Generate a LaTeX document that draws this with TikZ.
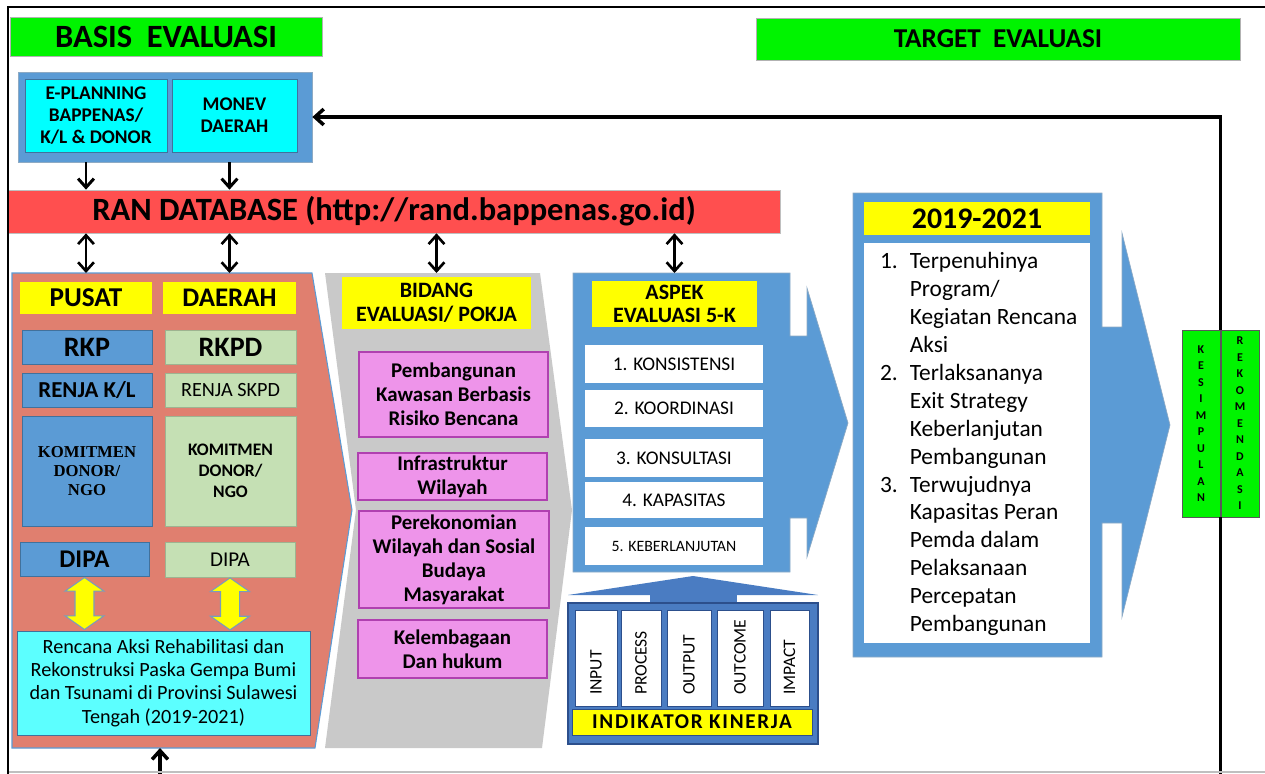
\documentclass[tikz,border=0pt]{standalone}
\usepackage{fontspec}
\setmainfont{Carlito}
\newfontfamily\tnrfont{Liberation Serif}
\usetikzlibrary{positioning}
\usetikzlibrary{calc}
\usetikzlibrary{fit}
\usetikzlibrary{shapes.arrows}
\usetikzlibrary{arrows.meta}

\definecolor{hijau}{HTML}{00F400}
\definecolor{biru}{HTML}{5B9BD5}
\definecolor{birugaris}{HTML}{41719C}
\definecolor{birutua}{HTML}{4A7CC2}
\definecolor{birukelam}{HTML}{2C4F8C}
\definecolor{sian}{HTML}{00FFFF}
\definecolor{sianmuda}{HTML}{5CFFFF}
\definecolor{merah}{HTML}{FF4F4F}
\definecolor{salem}{HTML}{E07F6F}
\definecolor{kuning}{HTML}{FFFF00}
\definecolor{hijaumuda}{HTML}{C5E0B4}
\definecolor{merahmuda}{HTML}{EE94EA}
\definecolor{ungu}{HTML}{B040B0}
\definecolor{abu}{HTML}{C9C9C9}

\begin{document}
\begin{tikzpicture}[x=0.02cm, y=-0.02cm,
    di/.style args={#1/#2/#3/#4}{minimum width={(#3-#1)*0.02cm}, minimum height={(#4-#2)*0.02cm},
        at={({(#1+#3)/2},{(#2+#4)/2})}},
    kotak/.style={inner sep=0pt, align=center},
    hijaubox/.style={kotak, fill=hijau, draw=gray!60, line width=0.4pt},
    birubox/.style={kotak, fill=biru, draw=birugaris, line width=0.5pt},
    mudabox/.style={kotak, fill=hijaumuda, draw=hijaumuda!80!black, line width=0.3pt},
    kuningbox/.style={kotak, fill=kuning},
    pinkbox/.style={kotak, fill=merahmuda, draw=ungu, line width=0.6pt, font=\fontsize{11.9}{13.6}\bfseries},
    putihbox/.style={kotak, fill=white, font=\fontsize{11}{13}\selectfont},
    kolom/.style={fill=white, draw=birukelam, line width=0.4pt, rotate=90, inner xsep=0.22cm,
        inner ysep=0pt, text width=1.48cm, align=left, minimum width=1.92cm, font=\fontsize{10}{12}\selectfont},
    dobel/.style={double arrow, rotate=90, fill=kuning, draw=birugaris!70, line width=0.6pt, inner sep=0.18cm,
        double arrow head extend=0.2cm, double arrow tip angle=110, minimum height=1.04cm},
    panah/.style={line width=1.7pt, -{Straight Barb[length=5pt,width=9pt]}},
    panah2/.style={line width=1.5pt, {Straight Barb[length=5pt,width=9pt]}-{Straight Barb[length=5pt,width=9pt]}}
]
\useasboundingbox (0,0) rectangle (1265,774);
\clip (0,0) rectangle (1265,774);

% judul
\node[hijaubox, di=10/17/322/56, font=\fontsize{18.5}{21}\bfseries] (basis) {BASIS\ \ EVALUASI};
\node[hijaubox, di=756/18/1240/60, font=\fontsize{15.5}{18}\bfseries] (target) {TARGET\ \ EVALUASI};

% sumber data
\node[kotak, fill=biru, draw=birugaris!60, di=18/72/312/162] (sumber) {};
\node[kotak, fill=sian, draw=birugaris, di=25/79/167/152, font=\fontsize{11}{12.5}\bfseries] (eplan) {E-PLANNING\\BAPPENAS/\\K/L \& DONOR};
\node[kotak, fill=sian, draw=birugaris, di=172/79/297/152, font=\fontsize{11}{12.5}\bfseries] (monev) {MONEV\\DAERAH};

\node[kotak, fill=merah, draw=gray!50, di=8/190/780/233, font=\fontsize{18.5}{21}\bfseries] (ran) {RAN DATABASE (http://rand.bappenas.go.id)};

% panel kiri dan tengah
\filldraw[fill=salem, draw=biru, line width=0.6pt] (12,273) coordinate (atas) -- (312,273) -- (352,510) -- (315,748) -- (12,748) -- cycle;
\coordinate (bawah) at (160,748);
\fill[abu] (325,273) -- (540,273) -- (572,510) -- (542,748) -- (325,748) -- (356,510) -- cycle;

\node[kuningbox, di=20/282/152/314, font=\fontsize{15.5}{17}\bfseries] (pusat) {PUSAT};
\node[kuningbox, di=163/282/296/314, font=\fontsize{15.3}{17}\bfseries] (daerah) {DAERAH};
\node[birubox, di=22/330/152/364, font=\fontsize{16}{18}\bfseries] (rkp) {RKP};
\node[mudabox, di=165/330/296/364, font=\fontsize{16}{18}\bfseries] (rkpd) {RKPD};
\node[birubox, di=22/373/152/407, font=\fontsize{13}{15}\bfseries] (renjakl) {RENJA K/L};
\node[mudabox, di=165/373/296/407, font=\fontsize{11.5}{13}\selectfont] (renjaskpd) {RENJA SKPD};
\node[birubox, di=22/416/152/526, font=\tnrfont\fontsize{9.5}{10.8}\bfseries] (komit1) {KOMITMEN\\DONOR/\\NGO};
\node[mudabox, di=165/416/296/526, font=\fontsize{10}{12}\bfseries] (komit2) {KOMITMEN\\DONOR/\\NGO};
\node[birubox, di=20/542/149/576, font=\fontsize{14.5}{16}\bfseries] (dipa1) {DIPA};
\node[mudabox, di=165/542/295/577, font=\fontsize{12}{14}\selectfont] (dipa2) {DIPA};
\node[kotak, fill=sianmuda, draw=birugaris, line width=0.5pt, di=17/631/310/735, font=\fontsize{11.5}{13.3}\selectfont] (renc)
    {Rencana Aksi Rehabilitasi dan\\Rekonstruksi Paska Gempa Bumi\\dan Tsunami di Provinsi Sulawesi\\Tengah (2019-2021)};
\node[dobel] (d1) at ($(dipa1.south)!0.5!(dipa1.south |- renc.north)$) {};
\node[dobel] (d2) at ($(dipa2.south)!0.5!(dipa2.south |- renc.north)$) {};

\node[kuningbox, di=342/277/531/329, font=\fontsize{12.5}{13.5}\bfseries] (bidang) {BIDANG\\EVALUASI/ POKJA};
\node[pinkbox, di=359/352/548/437] (pb1) {Pembangunan\\Kawasan Berbasis\\Risiko Bencana};
\node[pinkbox, di=358/453/547/500] (pb2) {Infrastruktur\\Wilayah};
\node[pinkbox, di=359/511/549/608] (pb3) {Perekonomian\\Wilayah dan Sosial\\Budaya\\Masyarakat};
\node[pinkbox, di=358/620/547/678] (pb4) {Kelembagaan\\Dan hukum};

% aspek evaluasi
\filldraw[fill=biru, draw=birugaris!60, line width=0.4pt] (573,273) -- (790,273) -- (790,336) -- (807,336) -- (807,288)
    -- (848,423) -- (807,557) -- (807,518) -- (790,518) -- (790,572) -- (573,572) -- cycle;
\node[kuningbox, di=592/281/757/327, font=\fontsize{12.5}{13.5}\bfseries] (aspek) {ASPEK\\EVALUASI 5-K};
\node[putihbox, di=585/345/763/383] (k1) {1. KONSISTENSI};
\node[putihbox, di=585/390/763/427] (k2) {2. KOORDINASI};
\node[putihbox, di=585/439/763/477] (k3) {3. KONSULTASI};
\node[putihbox, di=585/482/763/518] (k4) {4. KAPASITAS};
\node[putihbox, di=585/527/763/565, font=\fontsize{9}{11}\selectfont] (k5) {5. KEBERLANJUTAN};

% indikator kinerja
\fill[birutua] (568,595) -- (693,576) -- (818,595) -- cycle;
\fill[birutua] (650,594) rectangle (737,604);
\node[kotak, fill=birutua, draw=birukelam, line width=0.8pt, di=568/603/818/744] (indi) {};
\foreach \nm/\xa/\xb/\lbl in {c1/575/617/INPUT, c2/621/661/PROCESS, c3/667/711/OUTPUT, c4/717/763/OUTCOME, c5/770/809/IMPACT}
    \node[kolom, minimum height={(\xb-\xa)*0.02cm}] (\nm) at ({(\xa+\xb)/2},658) {\lbl};
\node[kuningbox, draw=birukelam, line width=0.5pt, di=572/709/812/735, font=\fontsize{12}{13}\bfseries\addfontfeature{LetterSpace=8}] (ik) {INDIKATOR KINERJA};

% target 2019-2021
\filldraw[fill=biru, draw=birugaris!60, line width=0.4pt] (853,193) -- (1102,193) -- (1102,327) -- (1122,327) -- (1122,233)
    -- (1170,425) -- (1122,617) -- (1122,523) -- (1102,523) -- (1102,657) -- (853,657) -- cycle;
\node[kuningbox, di=864/202/1090/235, font=\fontsize{17}{19}\bfseries] (tahun) {2019-2021};
\node[kotak, fill=white, di=864/243/1090/643] (daftar) {};
\node[anchor=north west, inner sep=0pt, font=\fontsize{13.3}{15.9}\selectfont] (isi) at ($(daftar.north west)+(16,6)$) {%
\begin{tabular}{@{}p{17pt}@{}l@{}}
1. & Terpenuhinya\\
   & Program/\\
   & Kegiatan Rencana\\
   & Aksi\\
2. & Terlaksananya\\
   & Exit Strategy\\
   & Keberlanjutan\\
   & Pembangunan\\
3. & Terwujudnya\\
   & Kapasitas Peran\\
   & Pemda dalam\\
   & Pelaksanaan\\
   & Percepatan\\
   & Pembangunan
\end{tabular}};

\node[hijaubox, draw=gray!70!black, di=1182/330/1220/517, font=\fontsize{6.8}{9.4}\bfseries] (kes) {K\\E\\S\\I\\M\\P\\U\\L\\A\\N};
\node[hijaubox, draw=gray!70!black, di=1221/330/1259/517, font=\fontsize{6.8}{9.4}\bfseries] (rek) {R\\E\\K\\O\\M\\E\\N\\D\\A\\S\\I};

% panah
\draw[panah] (sumber.south -| pusat) -- (ran.north -| pusat);
\draw[panah] (sumber.south -| daerah) -- (ran.north -| daerah);
\draw[panah2] (ran.south -| pusat) -- (atas -| pusat);
\draw[panah2] (ran.south -| daerah) -- (atas -| daerah);
\draw[panah2] (ran.south -| bidang) -- (atas -| bidang);
\draw[panah2] (ran.south -| aspek) -- (atas -| aspek);
\draw[panah, line width=2pt] (kes.north east) |- (sumber.east);
\draw[panah, line width=2pt] (kes.south east) -- ++(0,280) -| (bawah);

% bingkai
\draw[gray!50, line width=0.8pt] (8,772) -- (1265,772);
\draw[line width=1.2pt] (8,780) -- (8,7) -- (1270,7);
\end{tikzpicture}
\end{document}
